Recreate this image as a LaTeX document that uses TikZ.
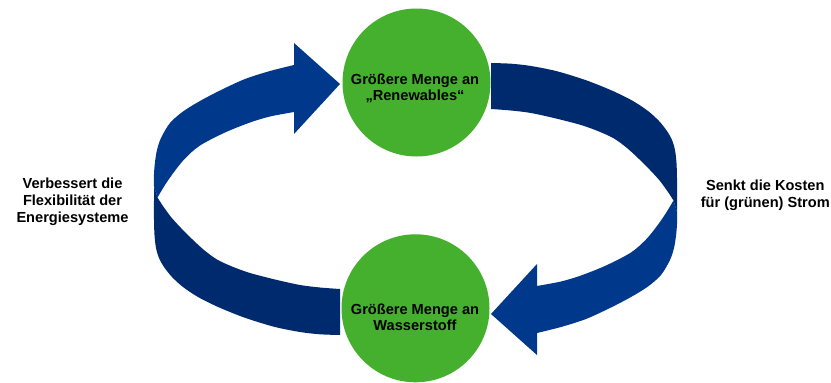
\documentclass[tikz,border=0pt]{standalone}
\usepackage{fontspec}
\setmainfont{Liberation Sans}
\definecolor{arrowfront}{RGB}{0,57,140}
\definecolor{arrowback}{RGB}{0,42,110}
\definecolor{circlegreen}{RGB}{69,176,46}
\newcommand{\halfcycle}{%
  \fill[back] plot[smooth,tension=0.5] coordinates {(154,186) (154,200) (154,220) (154.5,235) (156,248) (159,258) (164,267) (172,277) (183,287) (198,297) (217,306.5) (235,314) (250,319.5) (275,327) (300,332) (320,334.3) (340,335)}
    -- plot[smooth,tension=0.5] coordinates {(340,289) (320,287.5) (300,285) (275,279.5) (250,273) (232,266.5) (217,259.5) (204,250) (192,239) (181,228) (171,217) (163,206) (157.5,197.5)}
    -- cycle;
  \fill[front] (340,84) -- (294,134) -- (294,112)
    -- plot[smooth,tension=0.5] coordinates {(294,112) (270,116.5) (250,122.5) (225,132.5) (200,145.5) (185,158.5) (174,172) (165,185) (157.5,197.5)}
    -- plot[smooth,tension=0.5] coordinates {(154,186) (154,174) (155,162) (157,150) (161,138) (170,123) (183,111.5) (200,101) (220,90.5) (245,79) (270,71) (294,65)}
    -- (294,43) -- cycle;
}
\begin{document}
\begin{tikzpicture}[x=1pt,y=-1pt,
  lbl/.style={font=\bfseries\fontsize{14.6}{17}\selectfont, inner sep=0pt, anchor=base, text=black},
  front/.style={fill=arrowfront},
  back/.style={fill=arrowback},
  bubble/.style={circle, fill=circlegreen, minimum size=148pt, inner sep=0pt}]
\useasboundingbox[fill=white] (0,0) rectangle (831,383);
% left arrow (bottom -> top)
\halfcycle
% right arrow (top -> bottom), point reflection of the left one
\begin{scope}[rotate around={180:(415.5,199)}]
\halfcycle
\end{scope}
% circles
\node[bubble] (top) at (416.5,82.5) {};
\node[bubble] (bottom) at (415.5,308.3) {};
\node[lbl] (topA) at (415,84) {Größere Menge an};
\node[lbl] (topB) at (415,100.7) {„Renewables“};
\node[lbl] (botA) at (415,314) {Größere Menge an};
\node[lbl] (botB) at (415,330.7) {Wasserstoff};
% side labels
\node[lbl] (leftA) at (72.5,188.5) {Verbessert die};
\node[lbl] (leftB) at (72.5,205.5) {Flexibilität der};
\node[lbl] (leftC) at (72.5,222.5) {Energiesysteme};
\node[lbl] (rightA) at (765.3,190.5) {Senkt die Kosten};
\node[lbl] (rightB) at (765.3,207.5) {für (grünen) Strom};
\end{tikzpicture}
\end{document}
